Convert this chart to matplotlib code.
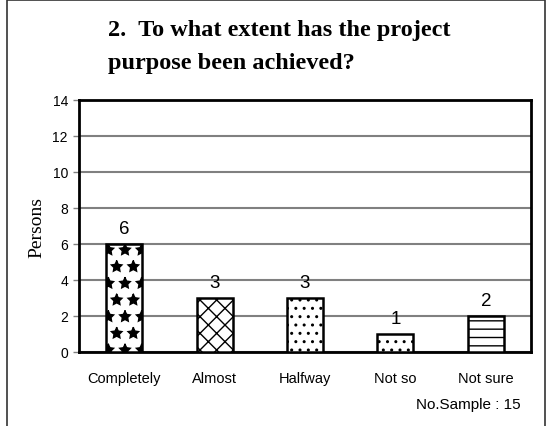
'''
Survey bar chart: project purpose achievement
'''

import numpy             as np
import matplotlib.pyplot as plt
from   matplotlib.patches import Rectangle

plt.rcParams[ 'font.family' ] = 'Liberation Sans'
plt.rcParams[ 'hatch.linewidth' ] = 1.0

# Data
categories = [ 'Completely', 'Almost', 'Halfway', 'Not so', 'Not sure' ]
persons    = [ 6, 3, 3, 1, 2 ]
hatches    = [ '*', 'xx', '..', '..', '--' ]
y_ticks    = [ 0, 2, 4, 6, 8, 10, 12, 14 ]
sample_n   = 15

# Figure and axes
fig = plt.figure( figsize = ( 5.47, 4.27 ), dpi = 100 )
ax  = fig.add_axes( [ 79 / 547, 74 / 427, 452 / 547, 252 / 427 ] )

# Outer frame (open at the bottom)
fig.patches.append( Rectangle(
    ( 7 / 547, -0.1 ), 538 / 547, 1.1 - 1 / 427,
    transform = fig.transFigure, fill = False,
    edgecolor = '#333333', linewidth = 1.2
) )

# Bars
x    = np.arange( len( categories ) )
bars = ax.bar( x, persons, width = 0.4, color = 'white',
               edgecolor = 'black', linewidth = 1.8, zorder = 3 )
for bar, h in zip( bars, hatches ):
    bar.set_hatch( h )

# Value labels
for xi, val in zip( x, persons ):
    ax.annotate( str( val ), ( xi, val ), xytext = ( 0, 5 ),
                 textcoords = 'offset points', ha = 'center', va = 'bottom',
                 fontsize = 13.5 )

# Axes styling
ax.set_xlim( -0.5, len( categories ) - 0.5 )
ax.set_ylim( 0, 14 )
ax.set_yticks( y_ticks )
ax.set_xticks( x )
ax.set_xticklabels( categories, fontsize = 10.5 )
ax.tick_params( axis = 'x', length = 0, pad = 14 )
ax.tick_params( axis = 'y', length = 4, width = 1, color = '#808080',
                labelsize = 10, pad = 4 )
ax.yaxis.grid( True, color = '#808080', linewidth = 1.5, zorder = 0 )
ax.set_axisbelow( True )
for spine in ax.spines.values():
    spine.set_linewidth( 2 )
    spine.set_color( 'black' )

ax.set_ylabel( 'Persons', family = 'Liberation Serif', fontsize = 14, labelpad = 5 )

# Title
fig.text( 108 / 547, 1 - 47 / 427,
          '2.  To what extent has the project\npurpose been achieved?',
          family = 'Liberation Serif', fontweight = 'bold', fontsize = 17.5,
          ha = 'left', va = 'center', linespacing = 1.75 )

# Sample note
fig.text( 521 / 547, 1 - 405 / 427, 'No.Sample : %d' % sample_n,
          ha = 'right', va = 'center', fontsize = 11 )

fig.savefig( 'out.png', dpi = 100 )
